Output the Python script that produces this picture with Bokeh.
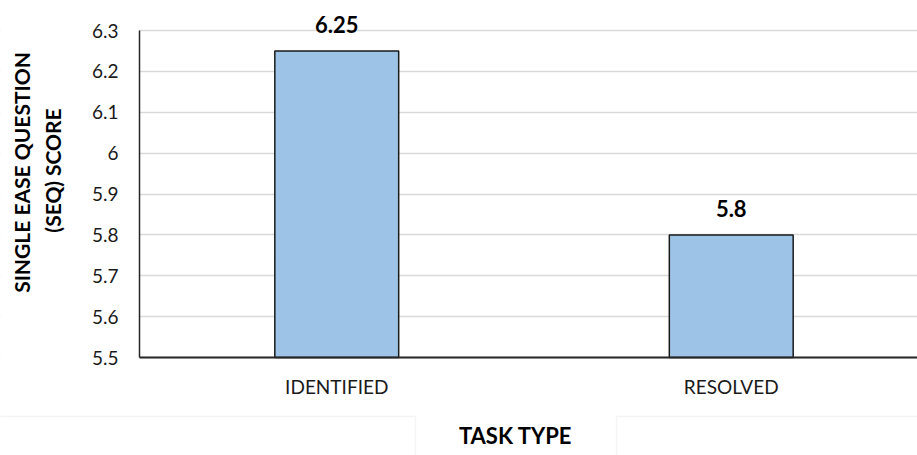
from bokeh.plotting import figure
from bokeh.models import (ColumnDataSource, Range1d, FixedTicker, NumeralTickFormatter,
                          LabelSet, Label, BoxAnnotation, LinearAxis, Grid)
from bokeh.core.properties import value
from bokeh.embed import file_html
from bokeh.resources import INLINE

# ---- data ----
categories = ["IDENTIFIED", "RESOLVED"]
scores = [6.25, 5.8]
score_labels = ["6.25", "5.8"]
y_ticks = [5.5, 5.6, 5.7, 5.8, 5.9, 6.0, 6.1, 6.2, 6.3]
x_title = "TASK TYPE"
y_title_lines = ["SINGLE EASE QUESTION", "(SEQ) SCORE"]

FONT = "Lato"
W, H = 917, 455
# plot area in pixels (as in the reference)
PL, PT, PB = 139, 30, 357
y_min, y_max = y_ticks[0], y_ticks[-1]
ppu_y = (PB - PT) / (y_max - y_min)
ppu_x = 394.5
n = len(categories)
x_pos = [i + 0.5 for i in range(n)]
src = ColumnDataSource(dict(x=x_pos, top=scores, label=score_labels))

x_end = (W - PL) / ppu_x
p = figure(width=W, height=H, output_backend="svg", toolbar_location=None,
           x_range=Range1d(-PL / ppu_x, x_end),
           y_range=Range1d(y_min - (H - PB) / ppu_y, y_max + PT / ppu_y),
           x_axis_location=None, y_axis_location=None,
           min_border=0)
p.outline_line_color = None
p.background_fill_color = "white"
p.border_fill_color = "white"
p.xgrid.visible = False
p.ygrid.visible = False

# horizontal grid lines
ygrid = Grid(dimension=1, ticker=FixedTicker(ticks=y_ticks), grid_line_color="#D9D9D9",
             grid_line_width=1.5, level="image")
p.add_layout(ygrid)
# white mask left of the value axis
p.add_layout(BoxAnnotation(right=0, fill_color="white", fill_alpha=1, line_color=None,
                           level="underlay"))

p.vbar(x="x", top="top", bottom=y_min, width=0.314, source=src,
       fill_color="#9DC3E6", line_color="#1a1a1a", line_width=1.5)

# axes at fixed positions
xaxis = LinearAxis(fixed_location=y_min, bounds=(0, x_end + 0.1),
                   ticker=FixedTicker(ticks=x_pos),
                   major_label_overrides={x: c for x, c in zip(x_pos, categories)})
yaxis = LinearAxis(fixed_location=0, bounds=(y_min, y_max),
                   ticker=FixedTicker(ticks=y_ticks),
                   formatter=NumeralTickFormatter(format="0.[0]"))
for ax in (xaxis, yaxis):
    ax.major_tick_line_color = None
    ax.minor_tick_line_color = None
    ax.major_tick_out = 0
    ax.major_tick_in = 0
    ax.major_label_text_font = FONT
    ax.major_label_text_font_size = "19px"
    ax.major_label_text_color = "#1a1a1a"
    ax.axis_line_color = "#262626"
xaxis.axis_line_width = 2
yaxis.axis_line_width = 1.5
yaxis.major_label_standoff = 21
xaxis.major_label_standoff = 17
p.add_layout(xaxis, "below")
p.add_layout(yaxis, "left")

# value labels
p.add_layout(LabelSet(x="x", y="top", text="label", source=src, y_offset=18,
                      text_align="center", text_baseline="alphabetic",
                      text_font=value(FONT), text_font_style="bold",
                      text_font_size="22px", text_color="black"))

# faint boxes below the chart
for l, r in ((-10, 415), (616, W + 10)):
    p.add_layout(BoxAnnotation(left=l, right=r, top=H - 416, bottom=-10,
                               left_units="screen", right_units="screen",
                               top_units="screen", bottom_units="screen",
                               fill_color=None, line_color="#D9D9D9", line_width=1.5))

# axis titles
p.add_layout(Label(x=515, y=H - 435, x_units="screen", y_units="screen", text=x_title,
                   text_align="center", text_baseline="middle", text_font=FONT,
                   text_font_style="bold", text_font_size="22px", text_color="black"))
for xc, yc, t in ((21, H - 172, y_title_lines[0]), (52, H - 170, y_title_lines[1])):
    p.add_layout(Label(x=xc, y=yc, x_units="screen", y_units="screen", text=t,
                       angle=90, angle_units="deg", text_align="center",
                       text_baseline="middle", text_font=FONT, text_font_style="bold",
                       text_font_size="21px", text_color="black"))

open("out.html", "w").write(file_html(p, INLINE))
